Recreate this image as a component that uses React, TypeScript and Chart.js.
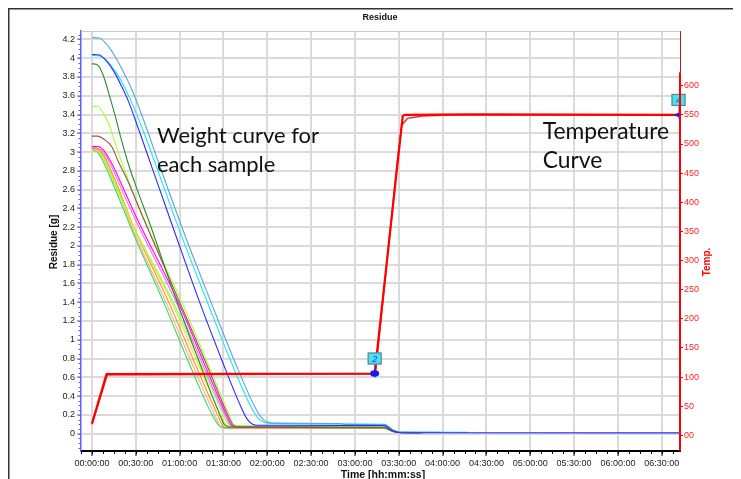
import React, { useEffect, useRef } from 'react';
import { Chart, registerables } from 'chart.js';

Chart.register(...registerables);

// ---- axis ticks ----
const timeTicks = [0, 30, 60, 90, 120, 150, 180, 210, 240, 270, 300, 330, 360, 390];
const residueTicks = [0, 0.2, 0.4, 0.6, 0.8, 1, 1.2, 1.4, 1.6, 1.8, 2, 2.2, 2.4, 2.6, 2.8, 3, 3.2, 3.4, 3.6, 3.8, 4, 4.2];
const tempTicks = [0, 50, 100, 150, 200, 250, 300, 350, 400, 450, 500, 550, 600];
const tempTickLabels = ['00', '50', '100', '150', '200', '250', '300', '350', '400', '450', '500', '550', '600'];

// ---- weight curves: [minutes, grams] ----
const steelBlue = [[0,4.22],[5,4.215],[10,4.15],[15,4.04],[20,3.9],[28,3.64],[37,3.27],[46,2.87],[63,2.14],[81,1.42],[99,0.72],[111,0.3],[116,0.17],[120,0.125],[125,0.112],[170,0.108],[173,0.098],[200,0.096],[206,0.04],[211,0.018],[238,0.015]];
const cyan = [[0,4.03],[6,4.02],[11,3.96],[16,3.86],[21,3.73],[28,3.5],[35,3.23],[44,2.85],[61,2.12],[79,1.4],[97,0.7],[109,0.28],[114,0.16],[118,0.12],[123,0.108],[200,0.1],[206,0.04],[211,0.018],[257,0.015]];
const blue = [[0,4.04],[5,4.035],[10,3.97],[15,3.86],[20,3.71],[25,3.54],[32,3.24],[41,2.84],[57,2.13],[73,1.43],[90,0.74],[101,0.32],[106,0.16],[110,0.1],[114,0.09],[200,0.085],[206,0.03],[211,0.01],[402,0.008]];
const darkGreen = [[0,3.94],[3,3.935],[6,3.88],[9,3.76],[12,3.6],[16,3.38],[20,3.14],[25,2.87],[31,2.6],[40,2.22],[56,1.5],[74,0.74],[87,0.22],[91,0.09],[95,0.07],[200,0.062],[206,0.025],[211,0.012],[226,0.01]];
const yellowGreen = [[0,3.49],[4,3.485],[8,3.41],[12,3.28],[17,3.04],[23,2.78],[30,2.5],[45,1.96],[61.5,1.4],[80,0.72],[93,0.24],[97,0.1],[101,0.08],[200,0.074],[206,0.03],[211,0.015],[229,0.012]];
const brown = [[0,3.17],[4,3.17],[8,3.14],[13.5,3.06],[18,2.9],[24,2.71],[35,2.3],[59.5,1.42],[80,0.68],[93,0.2],[97,0.085],[101,0.07],[200,0.066],[206,0.026],[211,0.012],[224,0.01]];
const magenta = [[0,3.06],[4,3.06],[8,3.02],[13.5,2.88],[19,2.7],[30,2.32],[58.5,1.42],[80,0.63],[92,0.2],[96,0.085],[100,0.07],[200,0.065],[206,0.025],[211,0.012],[227,0.01]];
const pink = [[0,3.05],[4,3.04],[8,3.0],[13,2.86],[19,2.65],[30,2.27],[57,1.42],[79,0.62],[91,0.2],[95,0.085],[99,0.068],[200,0.064],[206,0.024],[211,0.012],[222,0.01]];
const orange = [[0,3.04],[4,3.03],[8,2.97],[13,2.8],[18,2.62],[30,2.15],[52,1.42],[74,0.62],[86,0.2],[90,0.075],[94,0.06],[200,0.058],[206,0.022],[211,0.01],[225,0.01]];
const salmon = [[0,3.03],[4,3.02],[8,2.95],[13,2.77],[18,2.58],[30,2.1],[50,1.42],[72,0.62],[84,0.2],[88.5,0.065],[92,0.055],[200,0.054],[206,0.02],[211,0.01],[224,0.009]];
const yellow = [[0,3.02],[4,3.01],[8,2.94],[13,2.77],[19,2.56],[30,2.15],[54,1.42],[76,0.62],[88,0.2],[91.5,0.1],[95,0.08],[200,0.075],[206,0.03],[211,0.014],[223,0.012]];
const green = [[0,3.02],[3,3.01],[6,2.95],[12,2.75],[20,2.45],[30,2.07],[48.5,1.42],[70,0.62],[83,0.18],[88,0.075],[92,0.065],[200,0.062],[206,0.024],[211,0.011],[226,0.01]];
const lightGreen = [[0,3.01],[4,3.0],[8,2.92],[13,2.75],[20,2.5],[30,2.16],[55,1.42],[78,0.62],[90,0.2],[94,0.095],[98,0.085],[200,0.08],[206,0.03],[211,0.014],[227,0.012]];

// ---- temperature curves: [minutes, °C] ----
const tempRunA = [[0,20],[10,105],[193.5,106],[212.7,548],[214,550],[260,551],[402,550]];
const tempRunB = [[0,19],[10.5,104],[194,105],[209,470],[212,532],[216,544],[226,548],[245,550],[402,550]];

// ---- markers ----
const markerTimes = [193.5, 401.5];
const markerTemps = [106, 550];
const markerLabels = ['2', '4'];

const weightSeries = [
  { name: 'Blue', data: blue, color: '#2a2aff' },
  { name: 'Steel blue', data: steelBlue, color: '#5aa5d8' },
  { name: 'Cyan', data: cyan, color: '#19e6f5' },
  { name: 'Dark green', data: darkGreen, color: '#2a8a2a' },
  { name: 'Magenta', data: magenta, color: '#ff00ff' },
  { name: 'Pink', data: pink, color: '#ff70d0' },
  { name: 'Brown', data: brown, color: '#9b5050' },
  { name: 'Yellow green', data: yellowGreen, color: '#adff2f' },
  { name: 'Yellow', data: yellow, color: '#e8e800' },
  { name: 'Green', data: green, color: '#33dd55' },
  { name: 'Light green', data: lightGreen, color: '#7dff7d' },
  { name: 'Orange', data: orange, color: '#ff8a3d' },
  { name: 'Salmon', data: salmon, color: '#ffaa85' },
];

const pad2 = (n: number) => (n < 10 ? '0' + n : '' + n);
const fmtTime = (m: number) => {
  const h = Math.floor(m / 60);
  const mm = Math.round(m - h * 60);
  return `${pad2(h)}:${pad2(mm)}:00`;
};

const FONT = "'Liberation Sans', Arial, sans-serif";

const overlayPlugin = {
  id: 'overlay',
  afterDatasetsDraw(chart: any) {
    const { ctx, scales } = chart;
    const x = scales.x, y2 = scales.y2;
    ctx.save();
    for (let i = 0; i < markerTimes.length; i++) {
      const px = x.getPixelForValue(markerTimes[i]);
      const py = y2.getPixelForValue(markerTemps[i]);
      const bx = px - 7, by = py - 21;
      ctx.strokeStyle = '#2a2aff';
      ctx.lineWidth = 1;
      ctx.beginPath();
      ctx.moveTo(px + 0.5, by + 12);
      ctx.lineTo(px + 0.5, py + 4);
      ctx.stroke();
      ctx.fillStyle = '#1a1aee';
      if (i === 0) {
        ctx.beginPath();
        ctx.ellipse(px, py, 4.5, 3.2, 0, 0, Math.PI * 2);
        ctx.fill();
      } else {
        ctx.beginPath();
        ctx.moveTo(px - 5, py);
        ctx.lineTo(px + 2, py - 3);
        ctx.lineTo(px + 2, py + 3);
        ctx.closePath();
        ctx.fill();
      }
      ctx.fillStyle = '#44e4f4';
      ctx.fillRect(bx, by, 14, 12);
      ctx.strokeStyle = '#707070';
      ctx.strokeRect(bx + 0.5, by + 0.5, 13, 11);
      ctx.fillStyle = '#2a2aff';
      ctx.font = `italic 9px ${FONT}`;
      ctx.textAlign = 'center';
      ctx.textBaseline = 'middle';
      ctx.fillText(markerLabels[i], bx + 7, by + 6.5);
    }
    ctx.restore();
  },
  afterDraw(chart: any) {
    const { ctx, chartArea, scales } = chart;
    const x = scales.x, y = scales.y, y2 = scales.y2;
    const { left, right, top, bottom } = chartArea;
    ctx.save();
    ctx.strokeStyle = '#333';
    ctx.lineWidth = 1.5;
    ctx.beginPath();
    ctx.moveTo(0.75, chart.height);
    ctx.lineTo(0.75, 0.75);
    ctx.lineTo(chart.width, 0.75);
    ctx.stroke();
    ctx.strokeStyle = '#c8c8c8';
    ctx.lineWidth = 1;
    ctx.beginPath();
    ctx.moveTo(left, top + 0.5);
    ctx.lineTo(right, top + 0.5);
    ctx.stroke();
    const redTop = y2.getPixelForValue(623);
    ctx.strokeStyle = '#aa2020';
    ctx.lineWidth = 1;
    ctx.beginPath();
    ctx.moveTo(right + 0.5, top);
    ctx.lineTo(right + 0.5, redTop);
    ctx.stroke();
    ctx.strokeStyle = '#ff0000';
    ctx.lineWidth = 2;
    ctx.beginPath();
    ctx.moveTo(right, redTop);
    ctx.lineTo(right, bottom);
    ctx.stroke();
    ctx.strokeStyle = '#5a5aff';
    ctx.lineWidth = 1;
    for (let v = -0.15; v <= 4.26; v += 0.05) {
      const py = Math.round(y.getPixelForValue(v)) + 0.5;
      ctx.beginPath();
      ctx.moveTo(left - 2.5, py);
      ctx.lineTo(left, py);
      ctx.stroke();
    }
    ctx.strokeStyle = '#000';
    for (let m = -7.5; m <= 402; m += 7.5) {
      const px = Math.round(x.getPixelForValue(m)) + 0.5;
      ctx.beginPath();
      ctx.moveTo(px, bottom);
      ctx.lineTo(px, bottom + 3);
      ctx.stroke();
    }
    ctx.fillStyle = '#111';
    ctx.textAlign = 'center';
    ctx.textBaseline = 'middle';
    ctx.font = `bold 9px ${FONT}`;
    ctx.fillText('Residue', 372, 9.5);
    ctx.font = `bold 10.5px ${FONT}`;
    ctx.fillText('Time [hh:mm:ss]', 375, 467);
    ctx.save();
    ctx.translate(46, 234);
    ctx.rotate(-Math.PI / 2);
    ctx.font = `bold 10px ${FONT}`;
    ctx.fillText('Residue [g]', 0, 0);
    ctx.restore();
    ctx.save();
    ctx.translate(699, 254);
    ctx.rotate(-Math.PI / 2);
    ctx.fillStyle = '#ff0000';
    ctx.font = `bold 10px ${FONT}`;
    ctx.fillText('Temp.', 0, 0);
    ctx.restore();
    const fitFont = (text: string, width: number) => {
      ctx.font = `40px Lato, 'Open Sans', sans-serif`;
      const w = ctx.measureText(text).width;
      return (40 * width) / w;
    };
    ctx.fillStyle = '#111';
    ctx.textAlign = 'left';
    ctx.textBaseline = 'alphabetic';
    let fs = fitFont('Weight curve for', 162);
    ctx.font = `${fs}px Lato, 'Open Sans', sans-serif`;
    ctx.fillText('Weight curve for', 149, 135);
    ctx.fillText('each sample', 149, 164);
    fs = fitFont('Temperature', 126.5);
    ctx.font = `${fs}px Lato, 'Open Sans', sans-serif`;
    ctx.fillText('Temperature', 534.7, 131.3);
    ctx.fillText('Curve', 534.7, 160.3);
    ctx.restore();
  },
};

export default function App() {
  const canvasRef = useRef<HTMLCanvasElement | null>(null);

  useEffect(() => {
    if (!canvasRef.current) return;
    Chart.defaults.font.family = FONT;
    const toXY = (arr: number[][]) => arr.map(([a, b]) => ({ x: a, y: b }));
    const datasets: any[] = [
      {
        label: 'Temp A', data: toXY(tempRunA), yAxisID: 'y2', borderColor: '#ff0000',
        borderWidth: 2.2, pointRadius: 0, tension: 0,
      },
      {
        label: 'Temp B', data: toXY(tempRunB), yAxisID: 'y2', borderColor: '#ff2020',
        borderWidth: 1.5, pointRadius: 0, tension: 0,
      },
      ...weightSeries.map((s) => ({
        label: s.name, data: toXY(s.data), yAxisID: 'y', borderColor: s.color,
        borderWidth: 1.1, pointRadius: 0, cubicInterpolationMode: 'monotone',
      })),
    ];
    const chart = new Chart(canvasRef.current, {
      type: 'line',
      data: { datasets },
      options: {
        animation: false,
        responsive: false,
        maintainAspectRatio: false,
        layout: { padding: { top: 23, left: 0, right: 0, bottom: 0 } },
        plugins: { legend: { display: false }, title: { display: false }, tooltip: { enabled: false } },
        scales: {
          x: {
            type: 'linear', min: -7.5, max: 402.5,
            afterBuildTicks: (s: any) => { s.ticks = timeTicks.map((v) => ({ value: v })); },
            afterFit: (s: any) => { s.height = 28; },
            ticks: {
              callback: (v: any) => fmtTime(Number(v)), autoSkip: false, maxRotation: 0, minRotation: 0,
              font: { size: 9, family: FONT }, color: '#222', padding: 2,
            },
            grid: { color: '#dadada', lineWidth: 2, tickColor: '#000', tickLength: 5, tickWidth: 1 },
            border: { display: true, color: '#000', width: 2 },
          },
          y: {
            type: 'linear', position: 'left', min: -0.185, max: 4.29,
            afterBuildTicks: (s: any) => { s.ticks = residueTicks.map((v) => ({ value: v })); },
            afterFit: (s: any) => { s.width = 73; },
            ticks: {
              callback: (v: any) => String(Math.round(Number(v) * 10) / 10),
              font: { size: 9, family: FONT }, color: '#222', padding: 2,
            },
            grid: { color: '#dadada', lineWidth: 2, tickColor: '#5a5aff', tickLength: 4, tickWidth: 1 },
            border: { display: true, color: '#6060ff', width: 1.5 },
          },
          y2: {
            type: 'linear', position: 'right', min: -27, max: 694,
            afterBuildTicks: (s: any) => { s.ticks = tempTicks.map((v) => ({ value: v })); },
            afterFit: (s: any) => { s.width = 61; },
            ticks: {
              callback: (v: any) => tempTickLabels[tempTicks.indexOf(Number(v))] ?? String(v),
              font: { size: 9, family: FONT }, color: '#ff2020', padding: 1,
            },
            grid: { drawOnChartArea: false, tickColor: '#ff0000', tickLength: 3, tickWidth: 1 },
            border: { display: false },
          },
        },
      } as any,
      plugins: [overlayPlugin],
    });
    return () => chart.destroy();
  }, []);

  return (
    <div style={{ width: 733, height: 471 }}>
      <canvas ref={canvasRef} width={733} height={471} style={{ display: 'block', width: 733, height: 471 }} />
    </div>
  );
}
